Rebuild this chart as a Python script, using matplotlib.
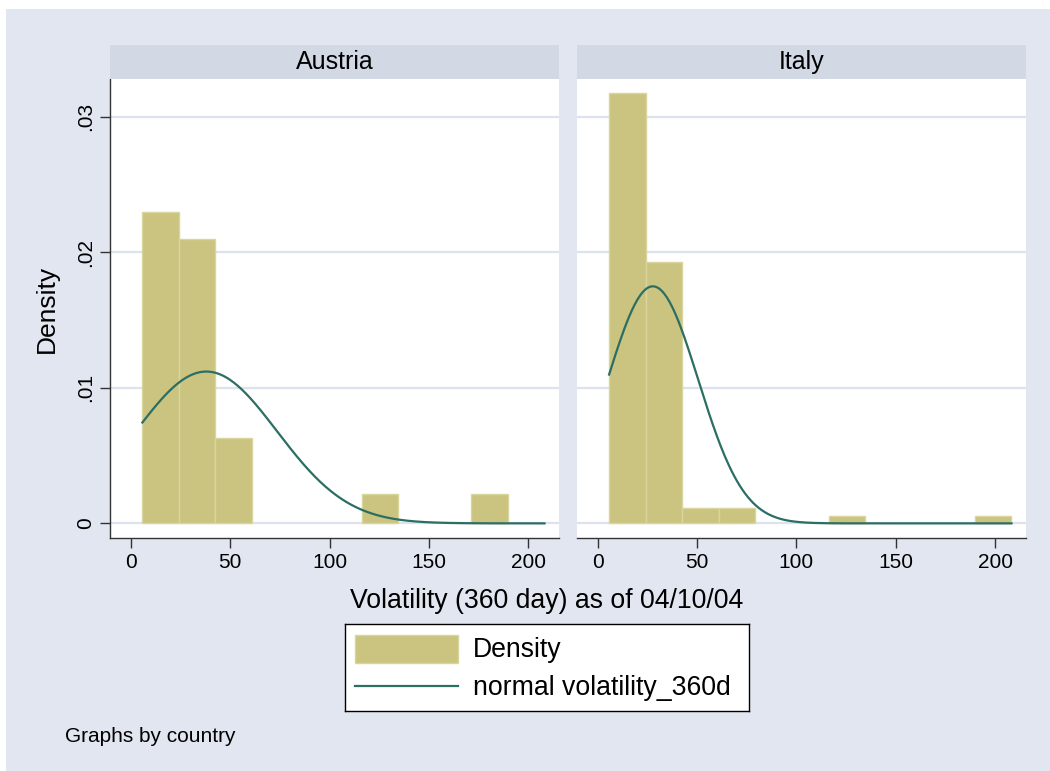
import numpy as np
import matplotlib
matplotlib.use("Agg")
import matplotlib.pyplot as plt
from matplotlib.patches import Rectangle
from matplotlib.lines import Line2D

plt.rcParams['font.family'] = ['Liberation Sans', 'DejaVu Sans']

# histogram bins (shared by both panels)
bin_edges = [5.8, 24.2, 42.6, 61.0, 79.4, 97.8, 116.2, 134.6, 153.0, 171.4, 189.8, 208.2]
countries = ["Austria", "Italy"]
austria_density = [0.0230, 0.0210, 0.00627, 0, 0, 0, 0.00214, 0, 0, 0.00214, 0]
italy_density = [0.0318, 0.0193, 0.00111, 0.00111, 0, 0, 0.00056, 0, 0, 0, 0.00056]
# fitted normal parameters (mean, sd)
austria_normal = (38.0, 35.6)
italy_normal = (27.8, 22.8)

x_ticks = [0, 50, 100, 150, 200]
y_ticks = [0, 0.01, 0.02, 0.03]
y_ticklabels = ["0", ".01", ".02", ".03"]

bg = "#E1E6F0"
strip_col = "#D2D8E4"
grid_col = "#DCE2EE"
bar_col = "#CBC480"
bar_edge = "#D9D59E"
line_col = "#2B6E63"

W, H = 1050, 771
fig = plt.figure(figsize=(W / 100, H / 100), dpi=100)
fig.patch.set_facecolor("white")
# stata-like background
fig.add_artist(Rectangle((6 / W, 0), 1 - 6 / W, 1 - 9 / H, transform=fig.transFigure,
                         facecolor=bg, edgecolor="none", zorder=-10))


def px(x0, y0, x1, y1):
    return [x0 / W, 1 - y1 / H, (x1 - x0) / W, (y1 - y0) / H]


panels = [
    (110, 559, austria_density, austria_normal, True),
    (576.7, 1026, italy_density, italy_normal, False),
]

for (x0, x1, dens, (mu, sd), show_y), name in zip(panels, countries):
    ax = fig.add_axes(px(x0, 79, x1, 538))
    ax.set_facecolor("white")
    ax.set_xlim(-10.5, 215.5)
    ax.set_ylim(-0.00108, 0.0328)
    for y in y_ticks:
        ax.axhline(y, color=grid_col, lw=1.6, zorder=0)
    for i, h in enumerate(dens):
        if h > 0:
            ax.bar(bin_edges[i], h, width=bin_edges[i + 1] - bin_edges[i], align="edge",
                   color=bar_col, edgecolor=bar_edge, linewidth=1.0, zorder=2)
    xs = np.linspace(bin_edges[0], bin_edges[-1], 300)
    ys = np.exp(-0.5 * ((xs - mu) / sd) ** 2) / (sd * np.sqrt(2 * np.pi))
    ax.plot(xs, ys, color=line_col, lw=1.6, zorder=3)

    for s in ["top", "right"]:
        ax.spines[s].set_visible(False)
    ax.spines["bottom"].set_color("#333333")
    ax.spines["bottom"].set_linewidth(1.0)
    ax.set_xticks(x_ticks)
    ax.tick_params(axis="x", length=7, width=1, color="#333333", labelsize=15, pad=4)
    if show_y:
        ax.spines["left"].set_color("#333333")
        ax.spines["left"].set_linewidth(1.0)
        ax.set_yticks(y_ticks)
        ax.set_yticklabels(y_ticklabels, rotation=90, va="center")
        ax.tick_params(axis="y", length=7, width=1, color="#333333", labelsize=15, pad=4)
        ax.set_ylabel("Density", fontsize=19, labelpad=12)
    else:
        ax.spines["left"].set_visible(False)
        ax.set_yticks([])

    # facet strip
    sax = fig.add_axes(px(x0, 45, x1, 79))
    sax.set_facecolor(strip_col)
    sax.set_xticks([])
    sax.set_yticks([])
    for s in sax.spines.values():
        s.set_visible(False)
    sax.text(0.5, 0.5, name, ha="center", va="center", fontsize=18, transform=sax.transAxes)

fig.text(546.7 / W, 1 - 601 / H, "Volatility (360 day) as of 04/10/04", ha="center", va="center",
         fontsize=19.2)

# legend box
lax = fig.add_axes(px(345, 624.3, 749.3, 711))
lax.set_xlim(345, 749.3)
lax.set_ylim(711, 624.3)
lax.set_facecolor("white")
lax.set_xticks([])
lax.set_yticks([])
for s in lax.spines.values():
    s.set_color("black")
    s.set_linewidth(1.0)
lax.add_patch(Rectangle((355, 634.7), 102.7, 28.6, facecolor=bar_col, edgecolor=bar_edge, lw=1))
lax.add_line(Line2D([355, 457.7], [685.7, 685.7], color=line_col, lw=1.6))
lax.text(473, 650, "Density", va="center", ha="left", fontsize=19.2)
lax.text(473, 688, "normal volatility_360d", va="center", ha="left", fontsize=19.2)

fig.text(65 / W, 1 - 736 / H, "Graphs by country", ha="left", va="center", fontsize=15)

fig.savefig("out.png", dpi=100, facecolor=fig.get_facecolor())
